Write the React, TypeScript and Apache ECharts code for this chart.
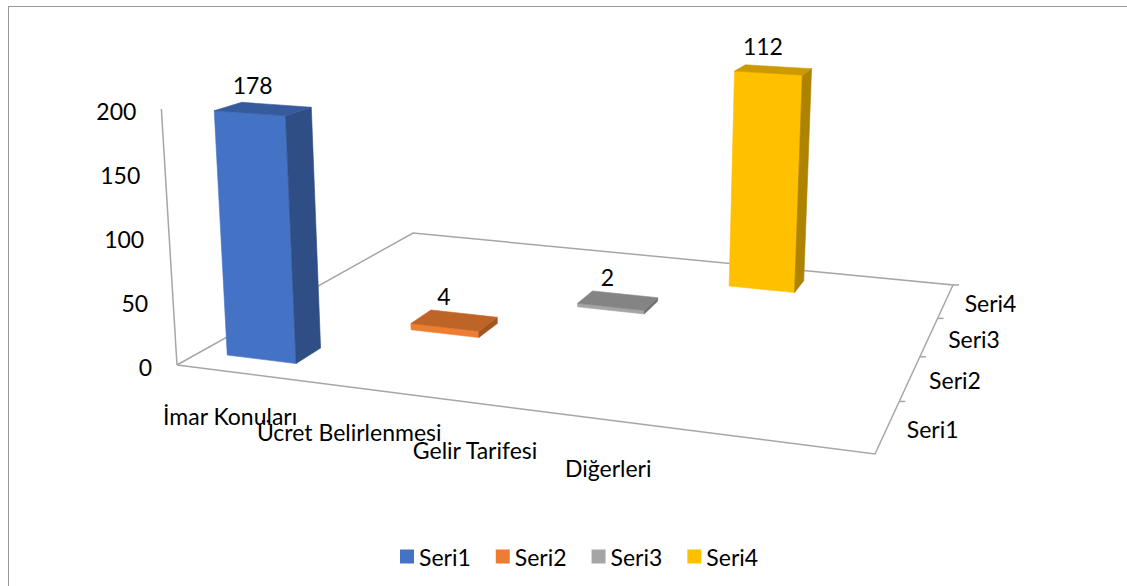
import React, { useEffect, useRef } from "react";
import * as echarts from "echarts";

// ---- data ----
const categories = ["İmar Konuları", "Ücret Belirlenmesi", "Gelir Tarifesi", "Diğerleri"];
const seriesNames = ["Seri1", "Seri2", "Seri3", "Seri4"];
const seri1 = [178, null, null, null];
const seri2 = [null, 4, null, null];
const seri3 = [null, null, 2, null];
const seri4 = [null, null, null, 112];
const yTicks = [0, 50, 100, 150, 200];

// ---- style / layout ----
const colors = ["#4472C4", "#ED7D31", "#A5A5A5", "#FFC000"];
const FONT = "Lato";
const FS = 23;
const LINE = "#a6a6a6";
const FL: [number, number] = [177, 365];
const FR: [number, number] = [875, 454];
const BR: [number, number] = [953, 285];
const BL: [number, number] = [413, 233];
const VP_X = 568;
const VP_DIST = 6400;
const CAT_SLOTS = 5;
const BAR_W = 0.112;
const BAR_D = 0.093;
const ROW_SCALE = [1.093, 1.317, 1.541, 1.765];

function shade(hex: string, k: number) {
  const n = parseInt(hex.slice(1), 16);
  const r = Math.round(((n >> 16) & 255) * k);
  const g = Math.round(((n >> 8) & 255) * k);
  const b = Math.round((n & 255) * k);
  return `rgb(${r},${g},${b})`;
}

function homography(p0: number[], p1: number[], p2: number[], p3: number[]) {
  const [x0, y0] = p0, [x1, y1] = p1, [x2, y2] = p2, [x3, y3] = p3;
  const dx1 = x1 - x2, dx2 = x3 - x2, dx3 = x0 - x1 + x2 - x3;
  const dy1 = y1 - y2, dy2 = y3 - y2, dy3 = y0 - y1 + y2 - y3;
  const det = dx1 * dy2 - dx2 * dy1;
  const g = (dx3 * dy2 - dx2 * dy3) / det;
  const h = (dx1 * dy3 - dx3 * dy1) / det;
  const a = x1 - x0 + g * x1, b = x3 - x0 + h * x3, c = x0;
  const d = y1 - y0 + g * y1, e = y3 - y0 + h * y3, f = y0;
  return (u: number, v: number) => {
    const w = g * u + h * v + 1;
    return { x: (a * u + b * v + c) / w, y: (d * u + e * v + f) / w, w };
  };
}
const proj = homography(FL, FR, BR, BL);

function lift(p: { x: number; y: number }, hpx: number): number[] {
  return [p.x + (hpx * (p.x - VP_X)) / VP_DIST, p.y - hpx];
}

function axisPx(api: any, value: number) {
  return api.coord([0, 0])[1] - api.coord([0, value])[1];
}

const allSeries = [seri1, seri2, seri3, seri4];

export default function App() {
  const ref = useRef<HTMLDivElement>(null);
  useEffect(() => {
    if (!ref.current) return;
    const chart = echarts.init(ref.current, undefined, { renderer: "svg" });

    const textStyle = (text: string, align: string, extra: any = {}) => ({
      text,
      fontSize: FS,
      fontFamily: FONT,
      fill: "#000",
      align,
      verticalAlign: "middle",
      ...extra,
    });

    const frameSeries: any = {
      type: "custom",
      name: "frame",
      coordinateSystem: "cartesian2d",
      z: 1,
      silent: true,
      data: [[0, 0]],
      renderItem: (_params: any, api: any) => {
        const children: any[] = [];
        const c0 = proj(0, 0), c1 = proj(1, 0), c2 = proj(1, 1), c3 = proj(0, 1);
        children.push({
          type: "polyline",
          shape: { points: [[c0.x, c0.y], [c1.x, c1.y], [c2.x, c2.y], [c3.x, c3.y], [c0.x, c0.y]] },
          style: { stroke: LINE, lineWidth: 1.5, fill: null },
        });
        const top = lift(c0, axisPx(api, yTicks[yTicks.length - 1]));
        children.push({
          type: "line",
          shape: { x1: c0.x, y1: c0.y, x2: top[0], y2: top[1] },
          style: { stroke: LINE, lineWidth: 1.5 },
        });
        // value tick labels
        yTicks.forEach((t) => {
          const p = lift(c0, axisPx(api, t));
          children.push({ type: "text", x: p[0] - 25, y: p[1] + 2, style: textStyle(String(t), "right") });
        });
        // depth ticks & labels
        seriesNames.forEach((name, j) => {
          const tv = (j + 1) / seriesNames.length;
          const tp = proj(1, tv);
          children.push({
            type: "line",
            shape: { x1: tp.x, y1: tp.y, x2: tp.x + 6, y2: tp.y },
            style: { stroke: LINE, lineWidth: 1.5 },
          });
          const lp = proj(1, (j + 0.5) / seriesNames.length);
          children.push({ type: "text", x: lp.x + 45, y: lp.y + 2, style: textStyle(name, "center") });
        });
        // category labels
        categories.forEach((cat, i) => {
          const u = (i + 0.5) / CAT_SLOTS;
          const p = proj(u, 0);
          children.push({ type: "text", x: p.x - 4 - 48 * u, y: p.y + 43, style: textStyle(cat, "center") });
        });
        return { type: "group", children };
      },
    };

    const barSeries = allSeries.map((vals, j) => ({
      type: "custom",
      name: seriesNames[j],
      coordinateSystem: "cartesian2d",
      z: 2,
      itemStyle: { color: colors[j] },
      data: vals.flatMap((v, i) => (v == null ? [] : [[i, v]])),
      renderItem: (_params: any, api: any) => {
        const i = api.value(0);
        const val = api.value(1);
        const axisH = axisPx(api, val) * ROW_SCALE[j];
        const uc = (i + 0.5) / CAT_SLOTS;
        const vc = (j + 0.5) / seriesNames.length;
        const u0 = uc - BAR_W / 2, u1 = uc + BAR_W / 2;
        const v0 = vc - BAR_D / 2, v1 = vc + BAR_D / 2;
        const bfl = proj(u0, v0), bfr = proj(u1, v0), bbr = proj(u1, v1), bbl = proj(u0, v1);
        const tfl = lift(bfl, axisH / bfl.w);
        const tfr = lift(bfr, axisH / bfr.w);
        const tbr = lift(bbr, axisH / bbr.w);
        const tbl = lift(bbl, axisH / bbl.w);
        const col = colors[j];
        const face = (pts: number[][], fill: string) => ({
          type: "polygon",
          shape: { points: pts },
          style: { fill, stroke: fill, lineWidth: 0.6 },
        });
        const cx = (tfl[0] + tfr[0] + tbr[0] + tbl[0]) / 4;
        const cy = (tfl[1] + tfr[1] + tbr[1] + tbl[1]) / 4;
        return {
          type: "group",
          children: [
            face([[bfl.x, bfl.y], [bfr.x, bfr.y], tfr, tfl], col),
            face([[bfr.x, bfr.y], [bbr.x, bbr.y], tbr, tfr], shade(col, 0.68)),
            face([tfl, tfr, tbr, tbl], shade(col, 0.8)),
            {
              type: "text",
              x: cx - 10.5,
              y: cy - 24,
              style: textStyle(String(val), "center"),
            },
          ],
        };
      },
    }));

    chart.setOption({
      animation: false,
      backgroundColor: "#ffffff",
      grid: { left: 177, top: 109, width: 700, height: 256, containLabel: false },
      xAxis: { type: "value", min: 0, max: 4, show: false },
      yAxis: { type: "value", min: 0, max: 200, interval: 50, show: false },
      legend: {
        data: seriesNames,
        left: 395,
        top: 540,
        icon: "rect",
        itemWidth: 14,
        itemHeight: 14,
        itemGap: 25,
        textStyle: { fontSize: FS, fontFamily: FONT, color: "#000" },
      },
      graphic: [
        { type: "line", shape: { x1: 8, y1: 6.5, x2: 1127, y2: 6.5 }, style: { stroke: "#999", lineWidth: 1 } },
        { type: "line", shape: { x1: 8.5, y1: 6, x2: 8.5, y2: 586 }, style: { stroke: "#999", lineWidth: 1 } },
      ],
      series: [frameSeries, ...barSeries],
    });

    return () => chart.dispose();
  }, []);

  return (
    <div
      ref={ref}
      style={{ position: "fixed", left: 0, top: 0, width: 1127, height: 586, background: "#fff" }}
    />
  );
}
